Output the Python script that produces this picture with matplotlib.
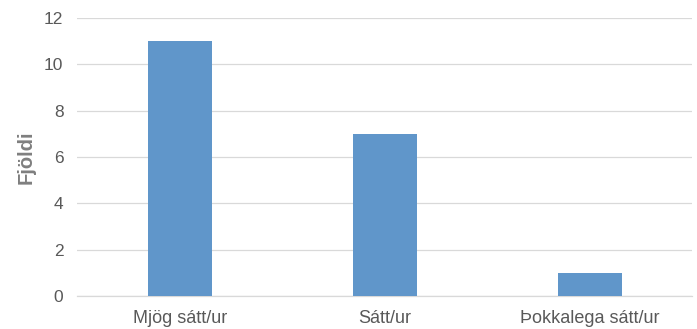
import matplotlib
matplotlib.use("Agg")
import matplotlib.pyplot as plt

categories = ["Mjög sátt/ur", "Sátt/ur", "Þokkalega sátt/ur"]
values = [11, 7, 1]
yticks = [0, 2, 4, 6, 8, 10, 12]

plt.rcParams['font.family'] = ['Liberation Sans', 'DejaVu Sans']

fig = plt.figure(figsize=(6.97, 3.29), dpi=100)
ax = fig.add_axes([0.111, 0.1003, 0.8825, 0.8450])

x = list(range(len(categories)))
ax.bar(x, values, width=0.312, color="#6096CA", zorder=3)

ax.set_xlim(-0.5, len(categories) - 0.5)
ax.set_ylim(0, 12)
ax.set_yticks(yticks)
ax.set_xticks(x)
ax.set_xticklabels(categories)
ax.grid(axis="y", color="#D9D9D9", linewidth=0.9, zorder=0)
ax.set_axisbelow(True)
for side in ["top", "right", "left"]:
    ax.spines[side].set_visible(False)
ax.spines["bottom"].set_color("#D9D9D9")
ax.spines["bottom"].set_linewidth(0.9)
ax.tick_params(axis="both", length=0, colors="#595959")
ax.tick_params(axis="y", labelsize=12.5, pad=10)
ax.tick_params(axis="x", labelsize=13, pad=10)
ax.set_ylabel("Fjöldi", fontsize=14.5, fontweight="bold", color="#7F7F7F", labelpad=6)

fig.savefig("out.png", dpi=100)
